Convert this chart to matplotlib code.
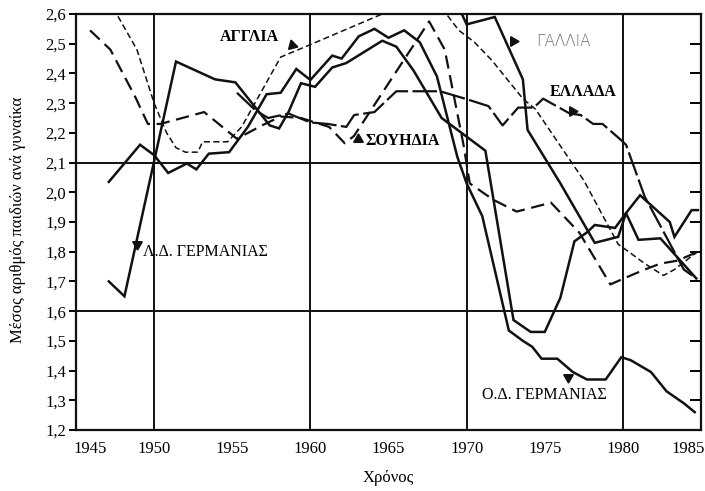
import matplotlib
matplotlib.use('Agg')
import matplotlib.pyplot as plt
import matplotlib.transforms as mtrans
from matplotlib.ticker import FixedLocator

plt.rcParams['font.family'] = ['Liberation Serif', 'DejaVu Serif']

# ---------------- data ----------------
gdr_years = [1947.1, 1948.1, 1951.4, 1953.9, 1955.2, 1957.4, 1958.0, 1958.6, 1959.4, 1960.3,
             1961.4, 1962.3, 1964.6, 1965.5, 1966.6, 1968.4, 1971.2, 1973.0, 1974.1, 1975.0,
             1976.0, 1976.9, 1977.7, 1978.2, 1979.5, 1980.2, 1981.1, 1983.0, 1983.3, 1984.4, 1984.8]
gdr_vals = [1.70, 1.65, 2.44, 2.38, 2.37, 2.225, 2.215, 2.27, 2.367, 2.355,
            2.42, 2.435, 2.51, 2.49, 2.41, 2.25, 2.14, 1.57, 1.53, 1.53,
            1.645, 1.835, 1.865, 1.89, 1.88, 1.93, 1.99, 1.90, 1.85, 1.94, 1.94]

frg_years = [1947.1, 1949.1, 1950.0, 1950.9, 1952.1, 1952.7, 1953.5, 1954.8, 1956.0, 1957.2,
             1958.1, 1959.1, 1960.0, 1961.4, 1962.0, 1963.1, 1964.1, 1965.0, 1966.0, 1967.0,
             1968.1, 1969.4, 1970.0, 1971.0, 1972.7, 1973.6, 1974.2, 1974.8, 1975.8, 1976.8,
             1977.7, 1978.9, 1979.9, 1980.5, 1981.8, 1982.8, 1983.9, 1984.6]
frg_vals = [2.035, 2.16, 2.125, 2.065, 2.097, 2.077, 2.13, 2.135, 2.22, 2.33,
            2.335, 2.415, 2.378, 2.46, 2.45, 2.525, 2.55, 2.52, 2.545, 2.505,
            2.39, 2.12, 2.03, 1.92, 1.535, 1.50, 1.48, 1.44, 1.44, 1.395,
            1.37, 1.37, 1.445, 1.435, 1.395, 1.33, 1.29, 1.26]

france_years = [1969.0, 1970.0, 1971.8, 1973.6, 1973.9, 1976.0, 1978.2, 1979.7, 1980.2, 1981.0,
                1982.4, 1984.7]
france_vals = [2.68, 2.565, 2.59, 2.38, 2.21, 2.03, 1.83, 1.85, 1.93, 1.84,
               1.845, 1.71]

england_years = [1946.8, 1947.6, 1948.9, 1950.0, 1950.8, 1951.4, 1952.0, 1952.8, 1953.1, 1954.7,
                 1955.6, 1958.1, 1960.0, 1964.6, 1966.5, 1968.7, 1969.5, 1970.5, 1971.6, 1973.6,
                 1974.4, 1977.5, 1979.7, 1980.5, 1981.4, 1982.6, 1983.3, 1984.4, 1984.8]
england_vals = [2.70, 2.60, 2.48, 2.30, 2.20, 2.15, 2.135, 2.135, 2.17, 2.17,
                2.22, 2.455, 2.497, 2.60, 2.68, 2.60, 2.545, 2.505, 2.445, 2.315,
                2.28, 2.04, 1.825, 1.795, 1.76, 1.72, 1.74, 1.785, 1.80]

sweden_years = [1945.9, 1947.2, 1948.8, 1949.6, 1950.4, 1953.2, 1955.3, 1956.9, 1958.1, 1959.4,
                1961.2, 1962.2, 1962.8, 1967.6, 1968.6, 1969.8, 1970.2, 1971.7, 1973.2, 1975.4,
                1977.2, 1979.2, 1980.5, 1981.4, 1982.4, 1983.5, 1984.8]
sweden_vals = [2.545, 2.48, 2.32, 2.23, 2.23, 2.27, 2.18, 2.225, 2.255, 2.25,
               2.22, 2.165, 2.19, 2.575, 2.48, 2.16, 2.03, 1.975, 1.935, 1.965,
               1.865, 1.69, 1.72, 1.74, 1.76, 1.77, 1.80]

greece_years = [1955.3, 1956.5, 1957.3, 1958.6, 1960.0, 1961.1, 1962.3, 1962.8, 1964.1, 1965.5,
                1968.3, 1969.9, 1971.4, 1972.3, 1973.3, 1974.3, 1974.9, 1976.6, 1977.3, 1978.1,
                1978.7, 1979.9, 1980.2, 1981.4, 1983.9, 1984.7]
greece_vals = [2.335, 2.275, 2.25, 2.265, 2.235, 2.23, 2.22, 2.26, 2.27, 2.34,
               2.34, 2.315, 2.29, 2.225, 2.285, 2.285, 2.315, 2.265, 2.26, 2.23,
               2.23, 2.175, 2.16, 1.985, 1.74, 1.71]

x_tick_years = [1945, 1950, 1955, 1960, 1965, 1970, 1975, 1980, 1985]
y_ticks = [1.2, 1.3, 1.4, 1.5, 1.6, 1.7, 1.8, 1.9, 2.0, 2.1, 2.2, 2.3, 2.4, 2.5, 2.6]
y_tick_labels = ['1,2', '1,3', '1,4', '1,5', '1,6', '1,7', '1,8', '1,9', '2,0', '2,1',
                 '2,2', '2,3', '2,4', '2,5', '2,6']
grid_years = [1950, 1960, 1970, 1980]
grid_values = [2.1, 1.6]
minor_years = [1955, 1965, 1975]

# ---------------- figure ----------------
W, H = 705, 491
fig = plt.figure(figsize=(W / 100, H / 100), dpi=100)
ax = fig.add_axes([76 / W, 1 - 430 / H, (701 - 76) / W, (430 - 14) / H])
ax.set_xlim(1945, 1985)
ax.set_ylim(1.2, 2.6)

for sp in ax.spines.values():
    sp.set_linewidth(1.6)
    sp.set_color('#111111')

for gx in grid_years:
    ax.axvline(gx, color='#111111', lw=1.4, zorder=1)
for gy in grid_values:
    ax.axhline(gy, color='#111111', lw=1.4, zorder=1)

k = '#111111'
ax.plot(gdr_years, gdr_vals, color=k, lw=1.8, zorder=3, solid_joinstyle='miter')
ax.plot(frg_years, frg_vals, color=k, lw=1.8, zorder=3, solid_joinstyle='miter')
ax.plot(france_years, france_vals, color=k, lw=1.8, zorder=3, solid_joinstyle='miter')
ax.plot(england_years, england_vals, color=k, lw=1.1, dashes=(4, 2.2), zorder=3)
ax.plot(sweden_years, sweden_vals, color=k, lw=1.6, dashes=(6, 3), zorder=3)
ax.plot(greece_years, greece_vals, color=k, lw=1.6, dashes=(11, 2), zorder=3)

# ticks
ax.xaxis.set_major_locator(FixedLocator(x_tick_years))
ax.set_xticklabels([str(y) for y in x_tick_years])
ax.tick_params(axis='x', which='major', length=0, pad=8, labelsize=12)
ax.xaxis.set_minor_locator(FixedLocator(minor_years))
ax.tick_params(axis='x', which='minor', direction='in', length=8, width=1.4,
               top=True, bottom=True)
ax.set_yticks(y_ticks)
ax.set_yticklabels(y_tick_labels)
ax.tick_params(axis='y', which='major', direction='out', length=5, width=1.4,
               labelsize=12, pad=2, right=True)
for t in ax.yaxis.get_major_ticks():
    t.tick2line.set_marker(matplotlib.lines.TICKLEFT)
    t.tick2line.set_markersize(8)

labs = ax.get_xticklabels()
labs[0].set_transform(labs[0].get_transform() + mtrans.ScaledTranslation(14 / 100, 0, fig.dpi_scale_trans))
labs[-1].set_transform(labs[-1].get_transform() + mtrans.ScaledTranslation(-13 / 100, 0, fig.dpi_scale_trans))

ax.set_xlabel('Χρόνος', fontsize=12, labelpad=9)
fig.text(18 / W, 1 - 220 / H, 'Μέσος αριθμός παιδιών ανά γυναίκα', rotation=90,
         ha='center', va='center', fontsize=12)

# labels with arrow heads
def tri(x, y, rot):
    ax.plot([x], [y], marker=(3, 0, rot), color=k, markersize=8, zorder=5, clip_on=False)

ax.text(1956.07, 2.523, 'ΑΓΓΛΙΑ', ha='center', va='center', fontsize=11.5, fontweight='bold')
tri(1958.82, 2.496, 135)
ax.text(1976.17, 2.506, 'ΓΑΛΛΙΑ', ha='center', va='center', fontsize=11, color='#666666',
        family=['DejaVu Sans'], fontweight='light')
tri(1972.97, 2.509, 30)
ax.text(1977.45, 2.337, 'ΕΛΛΑΔΑ', ha='center', va='center', fontsize=11.5, fontweight='bold')
tri(1976.74, 2.273, -90)
ax.text(1963.5, 2.173, 'ΣΟΥΗΔΙΑ', ha='left', va='center', fontsize=11.5, fontweight='bold')
tri(1963.05, 2.179, 120)
ax.text(1949.3, 1.799, 'Λ.Δ. ΓΕΡΜΑΝΙΑΣ', ha='left', va='center', fontsize=11.5)
tri(1948.9, 1.826, 60)
ax.text(1974.95, 1.318, 'Ο.Δ. ΓΕΡΜΑΝΙΑΣ', ha='center', va='center', fontsize=11.5)
tri(1976.49, 1.378, 60)

fig.savefig('out.png', dpi=100)
